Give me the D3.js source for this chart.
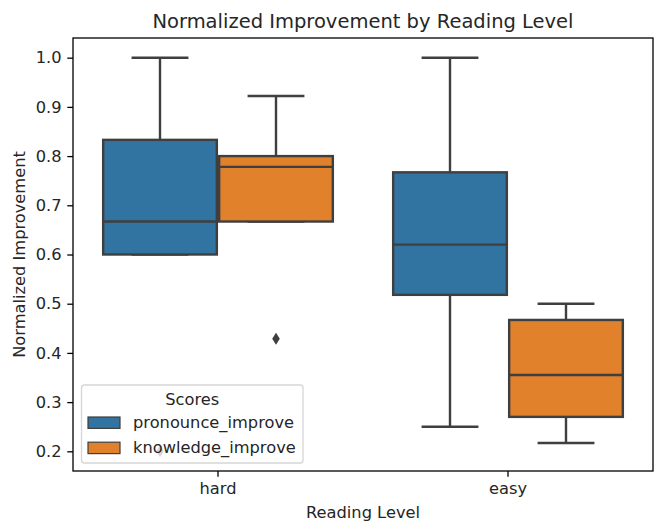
<!DOCTYPE html>
<html>
<head>
<meta charset="utf-8">
<script src="https://cdn.jsdelivr.net/npm/d3@7"></script>
<style>
  html, body { margin: 0; padding: 0; background: #fff; }
  svg { display: block; font-family: "DejaVu Sans", sans-serif; }
</style>
</head>
<body>
<svg id="chart" width="660" height="523"></svg>
<script>
// ---- data ----
const categories = ["hard", "easy"];
const series = ["pronounce_improve", "knowledge_improve"];
const colors = ["#3274a1", "#e1812c"];
// box stats per series, per category: [lowWhisker, q1, median, q3, highWhisker]
const pronounceStats = [[0.6, 0.6, 0.667, 0.833, 1.0], [0.25, 0.518, 0.62, 0.767, 1.0]];
const knowledgeStats = [[0.667, 0.667, 0.778, 0.8, 0.922], [0.217, 0.27, 0.355, 0.467, 0.5]];
const pronounceOutliers = [[0.2], []];
const knowledgeOutliers = [[0.429], []];
const yTicks = [0.2, 0.3, 0.4, 0.5, 0.6, 0.7, 0.8, 0.9, 1.0];

const statsBySeries = [pronounceStats, knowledgeStats];
const outliersBySeries = [pronounceOutliers, knowledgeOutliers];

// ---- layout ----
const L = 73, R = 653, T = 38, B = 471;
const edge = "#3f3f3f";
const svg = d3.select("#chart");

const x = d3.scaleBand().domain(categories).range([L, R]).paddingInner(0.2).paddingOuter(0.1);
const xh = d3.scaleBand().domain(series).range([0, x.bandwidth()]);
const y = d3.scaleLinear().domain([0.16, 1.04]).range([B, T]);

const boxW = xh.bandwidth() * 0.98;
const capW = boxW * 0.5;

const records = [];
series.forEach((s, si) => {
  categories.forEach((c, ci) => {
    const st = statsBySeries[si][ci];
    records.push({ s, si, c, lo: st[0], q1: st[1], med: st[2], q3: st[3], hi: st[4],
      out: outliersBySeries[si][ci],
      cx: x(c) + xh(s) + xh.bandwidth() / 2 });
  });
});

const g = svg.append("g");

// whiskers
records.forEach(r => {
  const gg = g.append("g");
  gg.append("line").attr("x1", r.cx).attr("x2", r.cx).attr("y1", y(r.q3)).attr("y2", y(r.hi))
    .attr("stroke", edge).attr("stroke-width", 2.4);
  gg.append("line").attr("x1", r.cx).attr("x2", r.cx).attr("y1", y(r.q1)).attr("y2", y(r.lo))
    .attr("stroke", edge).attr("stroke-width", 2.4);
  gg.append("line").attr("x1", r.cx - capW / 2).attr("x2", r.cx + capW / 2).attr("y1", y(r.hi)).attr("y2", y(r.hi))
    .attr("stroke", edge).attr("stroke-width", 2.4);
  gg.append("line").attr("x1", r.cx - capW / 2).attr("x2", r.cx + capW / 2).attr("y1", y(r.lo)).attr("y2", y(r.lo))
    .attr("stroke", edge).attr("stroke-width", 2.4);
});

// boxes
g.selectAll("rect.box").data(records).join("rect").attr("class", "box")
  .attr("x", d => d.cx - boxW / 2).attr("width", boxW)
  .attr("y", d => y(d.q3)).attr("height", d => y(d.q1) - y(d.q3))
  .attr("fill", d => colors[d.si]).attr("stroke", edge).attr("stroke-width", 2.4);

// medians
g.selectAll("line.med").data(records).join("line").attr("class", "med")
  .attr("x1", d => d.cx - boxW / 2).attr("x2", d => d.cx + boxW / 2)
  .attr("y1", d => y(d.med)).attr("y2", d => y(d.med))
  .attr("stroke", edge).attr("stroke-width", 2.4);

// outliers (thin diamonds)
records.forEach(r => {
  r.out.forEach(v => {
    const px = r.cx, py = y(v), hw = 3.8, hh = 6;
    g.append("path").attr("d", `M${px},${py - hh}L${px + hw},${py}L${px},${py + hh}L${px - hw},${py}Z`)
      .attr("fill", edge);
  });
});

// axes
const fs = 16.25;
const yAxis = d3.axisLeft(y).tickValues(yTicks).tickFormat(d3.format(".1f")).tickSize(5.7).tickPadding(5.7);
const ya = svg.append("g").attr("transform", `translate(${L},0)`).call(yAxis);
ya.select(".domain").remove();
ya.selectAll("line").attr("stroke", "#000").attr("stroke-width", 1.3);
ya.selectAll("text").attr("font-size", fs).attr("fill", "#262626").attr("font-family", "DejaVu Sans");

const xAxis = d3.axisBottom(x).tickSize(5.7).tickPadding(5.7);
const xa = svg.append("g").attr("transform", `translate(0,${B})`).call(xAxis);
xa.select(".domain").remove();
xa.selectAll("line").attr("stroke", "#000").attr("stroke-width", 1.3);
xa.selectAll("text").attr("font-size", fs).attr("fill", "#262626").attr("font-family", "DejaVu Sans");

// spines
svg.append("rect").attr("x", L).attr("y", T).attr("width", R - L).attr("height", B - T)
  .attr("fill", "none").attr("stroke", "#000").attr("stroke-width", 1.3);

// title & labels
svg.append("text").attr("x", (L + R) / 2).attr("y", T - 10).attr("text-anchor", "middle")
  .attr("font-size", 19.5).attr("fill", "#262626").text("Normalized Improvement by Reading Level");
svg.append("text").attr("x", (L + R) / 2).attr("y", 518).attr("text-anchor", "middle")
  .attr("font-size", fs).attr("fill", "#262626").text("Reading Level");
svg.append("text").attr("transform", `translate(25,${(T + B) / 2}) rotate(-90)`).attr("text-anchor", "middle")
  .attr("font-size", fs).attr("fill", "#262626").text("Normalized Improvement");

// legend
const lg = svg.append("g");
const lgX = 81.5, lgY = 385, lgW = 221.5, lgH = 78;
lg.append("rect").attr("x", lgX).attr("y", lgY).attr("width", lgW).attr("height", lgH).attr("rx", 3)
  .attr("fill", "#fff").attr("fill-opacity", 0.8).attr("stroke", "#cccccc").attr("stroke-opacity", 0.8).attr("stroke-width", 1.3);
lg.append("text").attr("x", lgX + lgW / 2).attr("y", lgY + 19.5).attr("text-anchor", "middle")
  .attr("font-size", fs).attr("fill", "#262626").text("Scores");
series.forEach((s, i) => {
  const ry = 417 + i * 25.2;
  lg.append("rect").attr("x", 88).attr("y", ry).attr("width", 32).attr("height", 11.4)
    .attr("fill", colors[i]).attr("stroke", edge).attr("stroke-width", 1.2);
  lg.append("text").attr("x", 133).attr("y", ry + 11).attr("font-size", fs).attr("fill", "#262626").text(s);
});
</script>
</body>
</html>
